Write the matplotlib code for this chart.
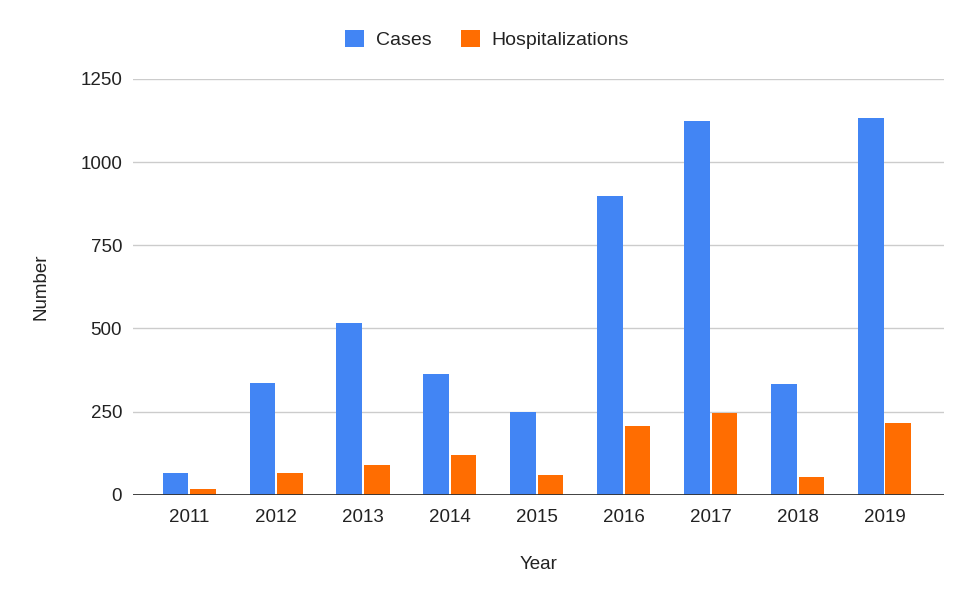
import matplotlib
matplotlib.use("Agg")
import matplotlib.pyplot as plt
import numpy as np
from matplotlib.patches import Patch

years = ["2011", "2012", "2013", "2014", "2015", "2016", "2017", "2018", "2019"]
cases = [65, 335, 516, 363, 250, 898, 1123, 334, 1132]
hospitalizations = [16, 65, 90, 118, 59, 206, 247, 54, 216]
yticks = [0, 250, 500, 750, 1000, 1250]

blue = "#4285F4"
orange = "#FF6D01"

plt.rcParams['font.family'] = ['Liberation Sans', 'DejaVu Sans']

fig = plt.figure(figsize=(9.75, 6.03), dpi=100)
ax = fig.add_axes([0.136, 0.1796, 0.832, 0.6894])

x = np.arange(len(years))
w = 0.296
off = 0.157
ax.bar(x - off, cases, width=w, color=blue, zorder=3)
ax.bar(x + off, hospitalizations, width=w, color=orange, zorder=3)

ax.set_xlim(-0.65, 8.68)
ax.set_ylim(0, 1250)
ax.set_yticks(yticks)
ax.set_yticklabels([str(v) for v in yticks])
ax.set_xticks(x)
ax.set_xticklabels(years)

ax.grid(axis='y', color='#cccccc', linewidth=1, zorder=0)
ax.axhline(0, color='#333333', linewidth=1.3, zorder=4)
for s in ['top', 'right', 'left', 'bottom']:
    ax.spines[s].set_visible(False)
ax.tick_params(axis='both', length=0, labelsize=13.5, colors='#222222')
ax.tick_params(axis='y', pad=7.5)
ax.tick_params(axis='x', pad=10)

ax.set_xlabel("Year", fontsize=13.5, color='#222222', labelpad=22)
ax.set_ylabel("Number", fontsize=13.5, color='#222222', labelpad=22)

handles = [Patch(facecolor=blue, edgecolor='none', label='Cases'),
           Patch(facecolor=orange, edgecolor='none', label='Hospitalizations')]
fig.legend(handles=handles, loc='center', bbox_to_anchor=(0.4995, 0.935), ncol=2,
           frameon=False, fontsize=14, handlelength=1.0, handleheight=1.0,
           handletextpad=0.6, columnspacing=1.5, labelcolor='#222222')

fig.savefig("out.png", dpi=100)
